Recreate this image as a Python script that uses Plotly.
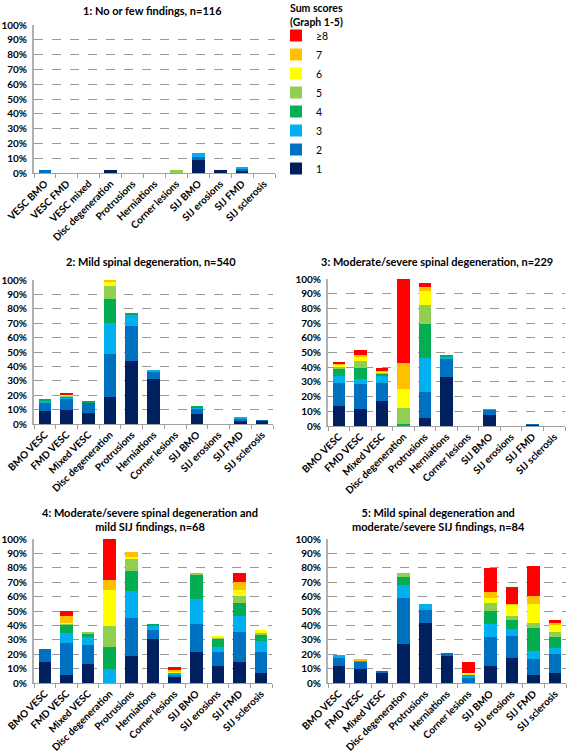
import plotly.graph_objects as go

cats1 = ["VESC BMO", "VESC FMD", "VESC mixed", "Disc degeneration", "Protrusions",
         "Herniations", "Corner lesions", "SIJ BMO", "SIJ erosions", "SIJ FMD", "SIJ sclerosis"]
cats = ["BMO VESC", "FMD VESC", "Mixed VESC", "Disc degeneration", "Protrusions",
        "Herniations", "Corner lesions", "SIJ BMO", "SIJ erosions", "SIJ FMD", "SIJ sclerosis"]

levels = ["1", "2", "3", "4", "5", "6", "7", "≥8"]
colors = ["#002060", "#0070C0", "#00B0F0", "#00B050", "#92D050", "#FFFF00", "#FFC000", "#FF0000"]

titles = ["<b>1: No or few findings, n=116</b>",
          "<b>2: Mild spinal degeneration, n=540</b>",
          "<b>3: Moderate/severe spinal degeneration, n=229</b>",
          "<b>4: Moderate/severe spinal degeneration and<br>mild SIJ findings, n=68</b>",
          "<b>5: Mild spinal degeneration and<br>moderate/severe SIJ findings, n=84</b>"]

# Graph 1 (percent per sum score level)
g1_l1 = [0, 0, 0, 2.2, 0, 0, 0, 8.6, 2.2, 1.5, 0]
g1_l2 = [2.2, 0, 0, 0, 0, 0, 0, 2.2, 0, 1.7, 0]
g1_l3 = [0, 0, 0, 0, 0, 0, 0, 2.7, 0, 0.9, 0]
g1_l4 = [0, 0, 0, 0, 0, 0, 0, 0, 0, 0, 0]
g1_l5 = [0, 0, 0, 0, 0, 0, 2.2, 0, 0, 0, 0]
g1_l6 = [0, 0, 0, 0, 0, 0, 0, 0, 0, 0, 0]
g1_l7 = [0, 0, 0, 0, 0, 0, 0, 0, 0, 0, 0]
g1_l8 = [0, 0, 0, 0, 0, 0, 0, 0, 0, 0, 0]

# Graph 2
g2_l1 = [9.3, 10, 7.6, 19, 44, 31.2, 0, 7, 0, 2, 2.3]
g2_l2 = [5.3, 7.6, 7, 29.6, 24.3, 5.4, 0, 3.6, 0, 1.5, 0.4]
g2_l3 = [1.6, 0.9, 0.3, 21.8, 7.4, 0.7, 0, 0.7, 0, 1.1, 0]
g2_l4 = [0.5, 0.7, 1.3, 16.4, 1.1, 0, 0, 0.7, 0, 0, 0]
g2_l5 = [0, 0.5, 0, 9.2, 0, 0, 0, 0, 0, 0, 0]
g2_l6 = [0, 0.5, 0, 2.8, 0, 0, 0, 0, 0, 0, 0]
g2_l7 = [0, 0.3, 0, 1.2, 0, 0, 0, 0, 0, 0, 0]
g2_l8 = [0, 0.8, 0, 0, 0, 0, 0, 0, 0, 0, 0]

# Graph 3
g3_l1 = [13.7, 11.9, 16.7, 0, 5.7, 33.6, 0, 7.5, 0, 0.9, 0]
g3_l2 = [15.8, 16.4, 12.8, 0, 17.1, 11.8, 0, 3.5, 0, 0.3, 0]
g3_l3 = [4.5, 3.9, 4.3, 0.4, 23.3, 1.9, 0, 0.4, 0, 0, 0]
g3_l4 = [5.3, 7.1, 1.8, 1.0, 23.3, 1.3, 0, 0, 0, 0, 0]
g3_l5 = [1.1, 4.7, 0.7, 10.9, 13, 0, 0, 0, 0, 0, 0]
g3_l6 = [1.2, 3.3, 0.9, 12.8, 9.2, 0, 0, 0, 0, 0, 0]
g3_l7 = [1.1, 0.7, 0.5, 18.1, 2.7, 0, 0, 0, 0, 0, 0]
g3_l8 = [1.1, 3.4, 1.8, 56.8, 3.2, 0, 0, 0, 0, 0, 0]

# Graph 4
g4_l1 = [14.6, 5.6, 13, 0, 19, 30.8, 4.4, 21.5, 11.6, 14.6, 7]
g4_l2 = [8.8, 21.9, 13.2, 0, 26.1, 6.2, 1.6, 19.2, 9.9, 20.6, 14.5]
g4_l3 = [0, 7.5, 5.7, 10, 19, 2.4, 1.2, 17.6, 3.3, 11.3, 7.4]
g4_l4 = [0, 5.7, 2.1, 15, 13.4, 1.6, 0, 16.5, 5.8, 9.3, 4.9]
g4_l5 = [0, 0.5, 1.4, 14.4, 8.8, 0, 0, 1.6, 0.5, 4.6, 1.2]
g4_l6 = [0, 0.5, 0, 25.2, 1.4, 0, 1.1, 0, 1.5, 4.2, 1.8]
g4_l7 = [0, 4.8, 0, 6.9, 3.2, 0, 1.2, 0, 0, 5.8, 0]
g4_l8 = [0, 3.7, 0, 28.5, 0, 0, 1.3, 0, 0, 6, 0]

# Graph 5
g5_l1 = [11.8, 9.5, 6.7, 27.1, 41.5, 19, 0, 11.8, 17.4, 5.6, 6.7]
g5_l2 = [5.8, 5.3, 1.7, 32.1, 9.3, 1.6, 3.7, 20, 15.5, 10.9, 13.7]
g5_l3 = [1.7, 0.5, 0, 9.2, 4.2, 0, 1.4, 9.3, 4.7, 5.5, 4.2]
g5_l4 = [0, 0, 0, 5.1, 0, 0, 0.9, 8.6, 6.3, 16.3, 7.2]
g5_l5 = [0, 0, 0, 2.8, 0, 0, 0, 6.2, 2.7, 3.2, 3.9]
g5_l6 = [0, 0, 0, 0, 0, 0, 0.7, 3.3, 7.9, 13.5, 4.7]
g5_l7 = [0, 1.4, 0, 0, 0, 0, 0, 3.9, 0.7, 5.3, 1.1]
g5_l8 = [0, 0, 0, 0, 0, 0, 7.7, 16.7, 11.6, 20.9, 2.4]

graphs = [
    (cats1, [g1_l1, g1_l2, g1_l3, g1_l4, g1_l5, g1_l6, g1_l7, g1_l8]),
    (cats, [g2_l1, g2_l2, g2_l3, g2_l4, g2_l5, g2_l6, g2_l7, g2_l8]),
    (cats, [g3_l1, g3_l2, g3_l3, g3_l4, g3_l5, g3_l6, g3_l7, g3_l8]),
    (cats, [g4_l1, g4_l2, g4_l3, g4_l4, g4_l5, g4_l6, g4_l7, g4_l8]),
    (cats, [g5_l1, g5_l2, g5_l3, g5_l4, g5_l5, g5_l6, g5_l7, g5_l8]),
]

W, H = 567, 754
# plot-area boxes in pixels: (left, right, top, bottom)
boxes = [(34, 275, 25, 173), (34, 273, 280, 424), (328, 565, 279, 426),
         (34, 272, 539, 683), (328, 566, 539, 683)]
title_pos = [(152, 11), (151, 261), (437, 262), (150, 519), (438, 519)]

FONT = "Lato"
fig = go.Figure()
for gi, (cs, series) in enumerate(graphs):
    ax = "" if gi == 0 else str(gi + 1)
    for li, vals in enumerate(series):
        pat = None
        if li in (3, 4):
            pat = dict(shape=".", fgcolor="#2f8f6a" if li == 3 else "#7fb37a",
                       size=4, solidity=0.15, fillmode="overlay")
        fig.add_trace(go.Bar(
            x=cs, y=vals, name=levels[li], legendgroup=levels[li],
            legendrank=100 - li, showlegend=(gi == 0),
            marker=dict(color=colors[li], line=dict(width=0), pattern=pat),
            xaxis="x" + ax, yaxis="y" + ax,
        ))
    l, r, t, b = boxes[gi]
    fig.update_layout({
        "xaxis" + ax: dict(domain=[l / W, r / W], anchor="y" + ax, type="category",
                           automargin=False,
                           tickangle=-45, ticks="outside", tickson="boundaries",
                           ticklen=4, tickcolor="#a0a0a0", showline=True,
                           linecolor="#a0a0a0", linewidth=1, showgrid=False,
                           tickfont=dict(family=FONT, size=10, color="black", weight="bold")),
        "yaxis" + ax: dict(domain=[1 - b / H, 1 - t / H], anchor="x" + ax, range=[0, 100],
                           automargin=False, ticklabelstandoff=3,
                           dtick=10, ticksuffix="%", showline=True, linecolor="#b0b0b0",
                           linewidth=2, showgrid=True, gridcolor="#9a9a9a", griddash="dash",
                           gridwidth=1, ticks="", zeroline=False,
                           tickfont=dict(family=FONT, size=10, color="black", weight="bold")),
    })
    tx, ty = title_pos[gi]
    fig.add_annotation(x=tx / W, y=1 - ty / H, xref="paper", yref="paper",
                       text=titles[gi], showarrow=False, xanchor="center", yanchor="middle",
                       font=dict(family=FONT, size=11, color="black"))

fig.add_annotation(x=288 / W, y=1, xref="paper", yref="paper",
                   text="<b>Sum scores<br>(Graph 1-5)</b>", showarrow=False, align="left",
                   xanchor="left", yanchor="top",
                   font=dict(family=FONT, size=10.5, color="black"))

fig.update_layout(
    width=W, height=H, margin=dict(l=0, r=0, t=0, b=0),
    paper_bgcolor="white", plot_bgcolor="white",
    barmode="stack", bargap=0.42,
    legend=dict(x=276 / W, y=1 - 21 / H, xanchor="left", yanchor="top",
                traceorder="grouped", tracegroupgap=0,
                font=dict(family=FONT, size=10.5, color="black"),
                itemwidth=30, bgcolor="rgba(0,0,0,0)"),
)

fig.write_html("out.html", config={"displayModeBar": False},
               post_script="document.body.style.margin='0px';")
